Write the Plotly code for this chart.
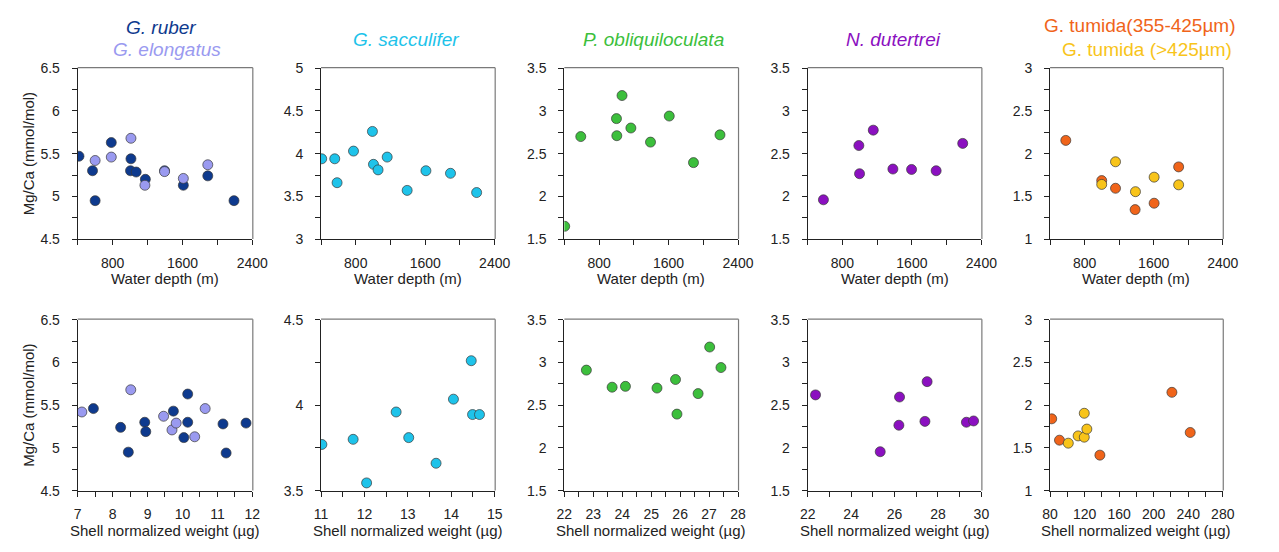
import plotly.graph_objects as go

# ---- Mg/Ca vs water depth (top row) and vs shell normalized weight (bottom row) ----
ruber_depth = [415, 570, 600, 785, 1010, 1005, 1070, 1175, 1395, 1610, 1890, 2190]
ruber_mgca_d = [5.47, 5.30, 4.95, 5.63, 5.44, 5.30, 5.285, 5.20, 5.30, 5.13, 5.24, 4.95]
elong_depth = [600, 785, 1010, 1170, 1395, 1610, 1890]
elong_mgca_d = [5.42, 5.46, 5.68, 5.13, 5.29, 5.21, 5.37]

ruber_weight = [7.45, 8.23, 8.45, 8.92, 8.95, 9.74, 10.04, 10.15, 10.15, 11.16, 11.25, 11.82]
ruber_mgca_w = [5.46, 5.24, 4.95, 5.30, 5.19, 5.43, 5.12, 5.63, 5.30, 5.28, 4.94, 5.29]
elong_weight = [7.12, 8.52, 9.46, 9.70, 9.82, 10.35, 10.65]
elong_mgca_w = [5.42, 5.68, 5.37, 5.21, 5.29, 5.13, 5.46]

sacc_depth = [408, 558, 585, 774, 992, 1004, 1057, 1162, 1392, 1608, 1891, 2192]
sacc_mgca_d = [3.94, 3.94, 3.66, 4.03, 4.26, 3.875, 3.81, 3.96, 3.57, 3.80, 3.77, 3.545]
sacc_weight = [11.02, 11.74, 12.05, 12.73, 13.02, 13.65, 14.05, 14.46, 14.49, 14.65]
sacc_mgca_w = [3.77, 3.80, 3.545, 3.96, 3.81, 3.66, 4.035, 4.26, 3.945, 3.945]

pob_depth = [404, 589, 1000, 1004, 1064, 1166, 1392, 1608, 1887, 2192]
pob_mgca_d = [1.65, 2.70, 2.91, 2.71, 3.18, 2.80, 2.635, 2.94, 2.395, 2.72]
pob_weight = [22.76, 23.65, 24.11, 25.20, 25.84, 25.89, 26.62, 27.02, 27.41]
pob_mgca_w = [2.91, 2.71, 2.72, 2.70, 2.80, 2.395, 2.635, 3.18, 2.94]

dut_depth = [581, 989, 997, 1155, 1381, 1596, 1879, 2185]
dut_mgca_d = [1.96, 2.595, 2.265, 2.775, 2.32, 2.315, 2.30, 2.62]
dut_weight = [22.36, 25.34, 26.23, 26.20, 27.40, 27.50, 29.31, 29.64]
dut_mgca_w = [2.62, 1.955, 2.595, 2.265, 2.31, 2.775, 2.30, 2.315]

tum_s_depth = [582, 998, 1158, 1385, 1605, 1889]
tum_s_mgca_d = [2.155, 1.685, 1.595, 1.345, 1.42, 1.845]
tum_l_depth = [998, 1158, 1389, 1605, 1889]
tum_l_mgca_d = [1.64, 1.905, 1.555, 1.725, 1.635]
tum_s_weight = [81.9, 90.9, 137.7, 221.1, 242.3]
tum_s_mgca_w = [1.84, 1.59, 1.415, 2.15, 1.68]
tum_l_weight = [101.1, 112.5, 119.6, 119.6, 122.6]
tum_l_mgca_w = [1.555, 1.64, 1.905, 1.625, 1.72]

C_RUBER = "#0e3a8e"
C_ELONG = "#9a9af0"
C_SACC = "#1ec3ea"
C_POB = "#3cbf3c"
C_DUT = "#8b10c0"
C_TUM_S = "#f0641a"
C_TUM_L = "#f8c41a"

FONT = "Liberation Sans, Arial, sans-serif"
W, H = 1279, 552
COLS = [(71, 249), (319, 496), (567, 744), (815, 992), (1062, 1238)]
ROWS = [(62, 238), (321, 497)]


def fx(p):
    return p / W


def fy(p):
    return 1 - p / H


def fmt(v):
    return f"{v:g}"


# (row, col, series, x range, labelled x ticks, unlabelled x ticks, y range)
panels = [
    (0, 0, [(ruber_depth, ruber_mgca_d, C_RUBER), (elong_depth, elong_mgca_d, C_ELONG)],
     [400, 2400], [800, 1600, 2400], [400, 1200, 2000], [4.5, 6.5]),
    (0, 1, [(sacc_depth, sacc_mgca_d, C_SACC)],
     [400, 2400], [800, 1600, 2400], [400, 1200, 2000], [3, 5]),
    (0, 2, [(pob_depth, pob_mgca_d, C_POB)],
     [400, 2400], [800, 1600, 2400], [400, 1200, 2000], [1.5, 3.5]),
    (0, 3, [(dut_depth, dut_mgca_d, C_DUT)],
     [400, 2400], [800, 1600, 2400], [400, 1200, 2000], [1.5, 3.5]),
    (0, 4, [(tum_s_depth, tum_s_mgca_d, C_TUM_S), (tum_l_depth, tum_l_mgca_d, C_TUM_L)],
     [400, 2400], [800, 1600, 2400], [400, 1200, 2000], [1, 3]),
    (1, 0, [(ruber_weight, ruber_mgca_w, C_RUBER), (elong_weight, elong_mgca_w, C_ELONG)],
     [7, 12], [7, 8, 9, 10, 11, 12], [7.5, 8.5, 9.5, 10.5, 11.5], [4.5, 6.5]),
    (1, 1, [(sacc_weight, sacc_mgca_w, C_SACC)],
     [11, 15], [11, 12, 13, 14, 15], [11.5, 12.5, 13.5, 14.5], [3.5, 4.5]),
    (1, 2, [(pob_weight, pob_mgca_w, C_POB)],
     [22, 28], [22, 23, 24, 25, 26, 27, 28], [22.5, 23.5, 24.5, 25.5, 26.5, 27.5], [1.5, 3.5]),
    (1, 3, [(dut_weight, dut_mgca_w, C_DUT)],
     [22, 30], [22, 24, 26, 28, 30], [23, 25, 27, 29], [1.5, 3.5]),
    (1, 4, [(tum_s_weight, tum_s_mgca_w, C_TUM_S), (tum_l_weight, tum_l_mgca_w, C_TUM_L)],
     [80, 280], [80, 120, 160, 200, 240, 280], [100, 140, 180, 220, 260], [1, 3]),
]

fig = go.Figure()
layout = dict(
    width=W, height=H,
    margin=dict(l=0, r=0, t=0, b=0),
    paper_bgcolor="white",
    plot_bgcolor="white",
    showlegend=False,
    font=dict(family=FONT, size=14, color="#222"),
)
shapes = []
annotations = []
tickfont = dict(family=FONT, size=14, color="#222")

for i, (r, c, series, xr, xmaj, xmin, yr) in enumerate(panels):
    k = i + 1
    xa = "x" if k == 1 else f"x{k}"
    ya = "y" if k == 1 else f"y{k}"
    x0, x1 = COLS[c]
    y0, y1 = ROWS[r]
    for xs, ys, col in series:
        fig.add_trace(go.Scatter(
            x=xs, y=ys, mode="markers", xaxis=xa, yaxis=ya,
            marker=dict(size=10, color=col, line=dict(width=0.7, color="#3a3a3a")),
            hoverinfo="x+y",
        ))
    # labelled ticks every 0.5 on y, plain ticks at the quarter marks
    ymaj = [round(yr[0] + 0.5 * j, 2) for j in range(int(round((yr[1] - yr[0]) / 0.5)) + 1)]
    ymin = [round(v + 0.25, 2) for v in ymaj[:-1]]
    xvals = sorted(xmaj + xmin)
    xtext = [fmt(v) if v in xmaj else "" for v in xvals]
    yvals = sorted(ymaj + ymin)
    ytext = [fmt(v) if v in ymaj else "" for v in yvals]

    layout["xaxis" if k == 1 else f"xaxis{k}"] = dict(
        domain=[fx(x0), fx(x1)], anchor=ya, range=xr,
        tickmode="array", tickvals=xvals, ticktext=xtext,
        ticks="outside", ticklen=5, tickwidth=1, tickcolor="#222",
        showline=True, linecolor="#222", linewidth=1,
        showgrid=False, zeroline=False, fixedrange=True,
        tickfont=tickfont, ticklabelstandoff=6,
    )
    layout["yaxis" if k == 1 else f"yaxis{k}"] = dict(
        domain=[fy(y1), fy(y0)], anchor=xa, range=yr,
        tickmode="array", tickvals=yvals, ticktext=ytext,
        ticks="outside", ticklen=5, tickwidth=1, tickcolor="#222",
        showline=True, linecolor="#222", linewidth=1,
        showgrid=False, zeroline=False, fixedrange=True,
        tickfont=tickfont, ticklabelstandoff=9,
    )
    # grey frame closing the top and right of each plot area (half-pixel aligned)
    top = fy(y0 - 0.5)
    right = fx(x1 + 0.5)
    shapes.append(dict(type="line", xref="paper", yref="paper",
                       x0=fx(x0), x1=right, y0=top, y1=top,
                       line=dict(color="#7a7a7a", width=1.2)))
    shapes.append(dict(type="line", xref="paper", yref="paper",
                       x0=right, x1=right, y0=top, y1=fy(y1),
                       line=dict(color="#7a7a7a", width=1.2)))
    # axis titles
    xtitle = "Water depth (m)" if r == 0 else "Shell normalized weight (µg)"
    ty = 279 if r == 0 else 538
    annotations.append(dict(text=xtitle, x=fx((x0 + x1) / 2), y=fy(ty), xref="paper", yref="paper",
                            xanchor="center", yanchor="middle", showarrow=False,
                            font=dict(family=FONT, size=15, color="#222")))
    if c == 0:
        annotations.append(dict(text="Mg/Ca (mmol/mol)", x=fx(21), y=fy((y0 + y1) / 2),
                                xref="paper", yref="paper", xanchor="center", yanchor="middle",
                                textangle=-90, showarrow=False,
                                font=dict(family=FONT, size=15, color="#222")))

# species titles above the top row
titles = [
    ("<i>G. ruber</i>", 156, 20, C_RUBER),
    ("<i>G. elongatus</i>", 162, 43, C_ELONG),
    ("<i>G. sacculifer</i>", 406, 32, C_SACC),
    ("<i>P. obliquiloculata</i>", 658, 32, C_POB),
    ("<i>N. dutertrei</i>", 902, 32, C_DUT),
    ("G. tumida(355-425µm)", 1154, 18, C_TUM_S),
    ("G. tumida (>425µm)", 1161, 43, C_TUM_L),
]
for text, px, py, col in titles:
    annotations.append(dict(text=text, x=fx(px), y=fy(py), xref="paper", yref="paper",
                            xanchor="center", yanchor="middle", showarrow=False,
                            font=dict(family=FONT, size=19, color=col)))

layout["shapes"] = shapes
layout["annotations"] = annotations
fig.update_layout(**layout)
fig.write_html("out.html")
